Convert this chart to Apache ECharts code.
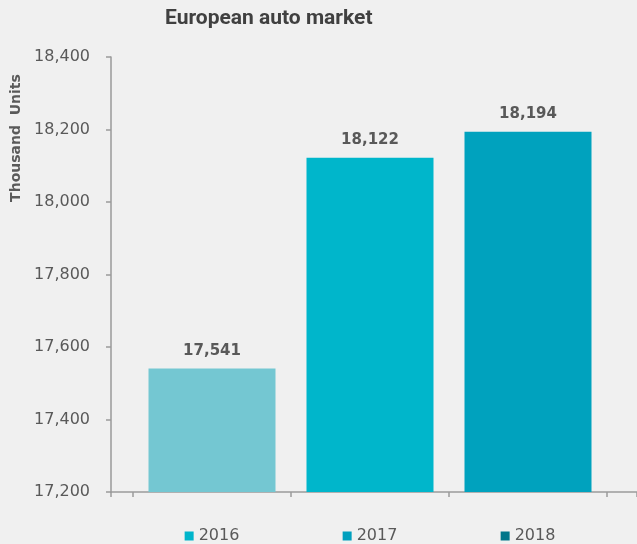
<!DOCTYPE html>
<html>
<head>
<meta charset="utf-8">
<script src="https://cdn.jsdelivr.net/npm/echarts@6/dist/echarts.min.js"></script>
<style>
  html, body { margin: 0; padding: 0; background: #f0f0f0; }
  #chart { width: 637px; height: 544px; }
</style>
</head>
<body>
<div id="chart"></div>
<script>
// Data
const years = ['2016', '2017', '2018'];
const units = [17541, 18122, 18194];
const yTicks = { min: 17200, max: 18400, step: 200 };

// Palette (bars and the square markers below the axis differ in the original)
const barColors = ['#74c7d2', '#00b6cb', '#00a2be'];
const keyColors = ['#00b5cb', '#00a0be', '#00768a'];

const fmt = v => Number(v).toLocaleString('en-US');
const axisGrey = '#9a9a9a';
const textGrey = '#595959';
const font = '"DejaVu Sans", Verdana, sans-serif';

const rich = { t: { fontSize: 16, color: textGrey, fontFamily: font, padding: [0, 0, 0, 5] } };
keyColors.forEach((c, i) => {
    rich['s' + i] = { width: 9, height: 9, backgroundColor: c };
});

const chart = echarts.init(document.getElementById('chart'));

const option = {
    backgroundColor: '#f0f0f0',
    animation: false,
    title: {
        text: 'European auto market',
        left: 160,
        top: 3,
        textStyle: {
            fontFamily: '"Liberation Sans Narrow", Roboto, sans-serif',
            fontWeight: 'bold',
            fontSize: 21,
            color: '#404040'
        }
    },
    graphic: [{
        type: 'text',
        x: 16,
        y: 138,
        rotation: Math.PI / 2,
        style: {
            text: 'Thousand  Units',
            fontFamily: font,
            fontWeight: 'bold',
            fontSize: 14,
            fill: textGrey,
            align: 'center',
            verticalAlign: 'middle'
        }
    }],
    grid: [
        { left: 133, width: 474, top: 57, bottom: 52 },
        { left: 111, right: 0, top: 57, bottom: 52 }
    ],
    xAxis: [{
        type: 'category',
        gridIndex: 0,
        data: years,
        axisLine: { show: false },
        axisTick: { show: true, length: 5, lineStyle: { color: axisGrey, width: 1.5 } },
        axisLabel: {
            margin: 36,
            formatter: (val, idx) => `{s${idx}|}{t|${val}}`,
            rich: rich
        }
    }, {
        type: 'value',
        gridIndex: 1,
        min: 0,
        max: 1,
        interval: 1,
        axisLine: { show: true, lineStyle: { color: axisGrey, width: 1.5 } },
        axisTick: { show: true, length: 5, lineStyle: { color: axisGrey, width: 1.5 } },
        axisLabel: { show: false },
        splitLine: { show: false }
    }],
    yAxis: [{
        type: 'value',
        gridIndex: 0,
        offset: 22,
        min: yTicks.min,
        max: yTicks.max,
        interval: yTicks.step,
        axisLine: { show: true, lineStyle: { color: axisGrey, width: 1.5 } },
        axisTick: { show: true, length: 5, lineStyle: { color: axisGrey, width: 1.5 } },
        axisLabel: {
            margin: 21,
            fontSize: 16,
            fontFamily: font,
            color: textGrey,
            formatter: fmt
        },
        splitLine: { show: false }
    }, {
        type: 'value',
        gridIndex: 1,
        show: false,
        min: 0,
        max: 1
    }],
    series: [{
        type: 'bar',
        xAxisIndex: 0,
        yAxisIndex: 0,
        barWidth: 127,
        data: units.map((v, i) => ({ value: v, itemStyle: { color: barColors[i] } })),
        label: {
            show: true,
            position: 'top',
            distance: 10,
            fontFamily: font,
            fontWeight: 'bold',
            fontSize: 15,
            color: textGrey,
            formatter: p => fmt(p.value)
        }
    }]
};

chart.setOption(option);
</script>
</body>
</html>
